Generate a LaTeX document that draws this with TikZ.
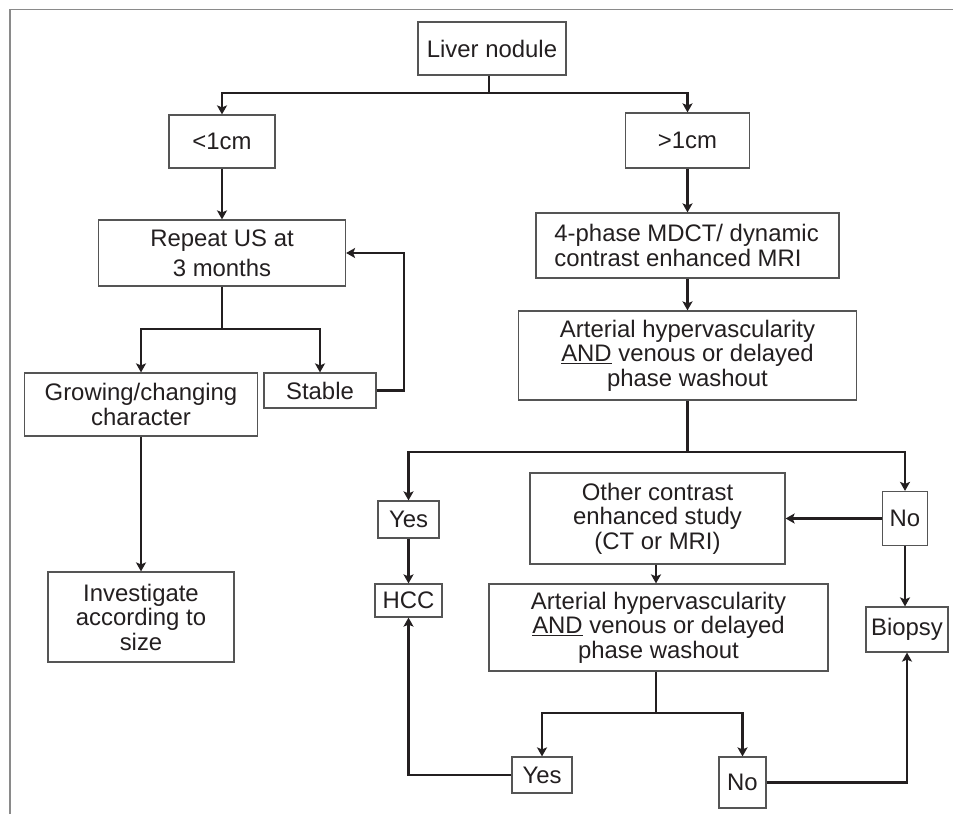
\documentclass[tikz,border=0pt]{standalone}
\usepackage{fontspec}
\setmainfont{Liberation Sans}
\usetikzlibrary{arrows.meta}
\definecolor{ink}{HTML}{231F20}
\definecolor{boxline}{HTML}{555555}
\definecolor{framegray}{HTML}{8A8A8A}
\begin{document}
\begin{tikzpicture}[x=1pt,y=-1pt,
  box/.style={draw=boxline, line width=1.2pt, text=ink, inner sep=0pt,
    align=center, font=\fontsize{23.9}{24.5}\selectfont},
  wire/.style={draw=ink, line width=2.5pt},
  arr/.style={wire, -{Stealth[length=9pt,width=10pt,inset=2pt]}}]
\useasboundingbox (0,0) rectangle (953,814);
% outer frame (top and left edges)
\draw[framegray, line width=1.6pt] (10,814) -- (10,9.5) -- (953,9.5);

% nodes: boxes with fixed sizes
\node[box, minimum width=148pt, minimum height=53pt] (liver) at (492,48.5) {Liver nodule};
\node[box, minimum width=106pt, minimum height=53pt] (lt1) at (222,141.5) {<1cm};
\node[box, minimum width=124pt, minimum height=55pt] (gt1) at (687.5,140.5) {>1cm};
\node[box, minimum width=247pt, minimum height=66pt, font=\fontsize{23.9}{30}\selectfont] (repeat) at (222,253) {Repeat US at\\3 months};
\node[box, minimum width=303pt, minimum height=65pt, align=left] (mdct) at (687.5,245.5) {4-phase MDCT/ dynamic\\contrast enhanced MRI\hspace*{19pt}};
\node[box, minimum width=338pt, minimum height=89pt] (art1) at (687.5,355.5) {Arterial hypervascularity\\\underline{AND} venous or delayed\\phase washout};
\node[box, minimum width=233pt, minimum height=63pt] (grow) at (141,404.5) {Growing/changing\\character};
\node[box, minimum width=112pt, minimum height=35pt] (stable) at (320,390.5) {Stable};
\node[box, minimum width=186pt, minimum height=90pt] (invest) at (141,617) {Investigate\\according to\\size};
\node[box, minimum width=61pt, minimum height=37pt] (yes1) at (408.5,519.5) {Yes};
\node[box, minimum width=67pt, minimum height=33pt] (hcc) at (408.5,600.5) {HCC};
\node[box, minimum width=45pt, minimum height=54pt] (no1) at (905,518.5) {No};
\node[box, minimum width=255pt, minimum height=91pt] (other) at (657.5,518.5) {Other contrast\\enhanced study\\(CT or MRI)};
\node[box, minimum width=339pt, minimum height=87pt] (art2) at (658.5,627.5) {Arterial hypervascularity\\\underline{AND} venous or delayed\\phase washout};
\node[box, minimum width=82pt, minimum height=45pt] (biopsy) at (907,629.5) {Biopsy};
\node[box, minimum width=60pt, minimum height=36pt] (yes2) at (542,775) {Yes};
\node[box, minimum width=47pt, minimum height=51pt] (no2) at (742.5,782.5) {No};

% branch points
\coordinate (j1) at (489,93);
\coordinate (j2) at (222,329);
\coordinate (j3) at (687.5,452);
\coordinate (j4) at (656,713);
\coordinate (loop) at (404,390.5);

% connectors
\draw[wire] (liver.south -| j1) -- (j1);
\draw[arr] (j1) -| (lt1.north);
\draw[arr] (j1) -| (gt1.north);
\draw[arr] (lt1) -- (repeat);
\draw[arr] (gt1) -- (mdct);
\draw[arr] (mdct) -- (art1);
\draw[wire] (repeat) -- (j2);
\draw[arr] (j2) -| (grow.north);
\draw[arr] (j2) -| (stable.north);
\draw[arr] (stable.east) -- (loop) |- (repeat.east);
\draw[arr] (grow) -- (invest);
\draw[wire] (art1) -- (j3);
\draw[arr] (j3) -| (yes1.north);
\draw[arr] (j3) -| (no1.north);
\draw[arr] (yes1) -- (hcc);
\draw[arr] (no1) -- (other);
\draw[arr] (other.south -| j4) -- (art2.north -| j4);
\draw[arr] (no1.south) -- (no1.south |- biopsy.north);
\draw[wire] (art2.south -| j4) -- (j4);
\draw[arr] (j4) -| (yes2.north);
\draw[arr] (j4) -| (no2.north);
\draw[arr] (yes2.west) -| (hcc.south);
\draw[arr] (no2.east) -| (biopsy.south);
\end{tikzpicture}
\end{document}
